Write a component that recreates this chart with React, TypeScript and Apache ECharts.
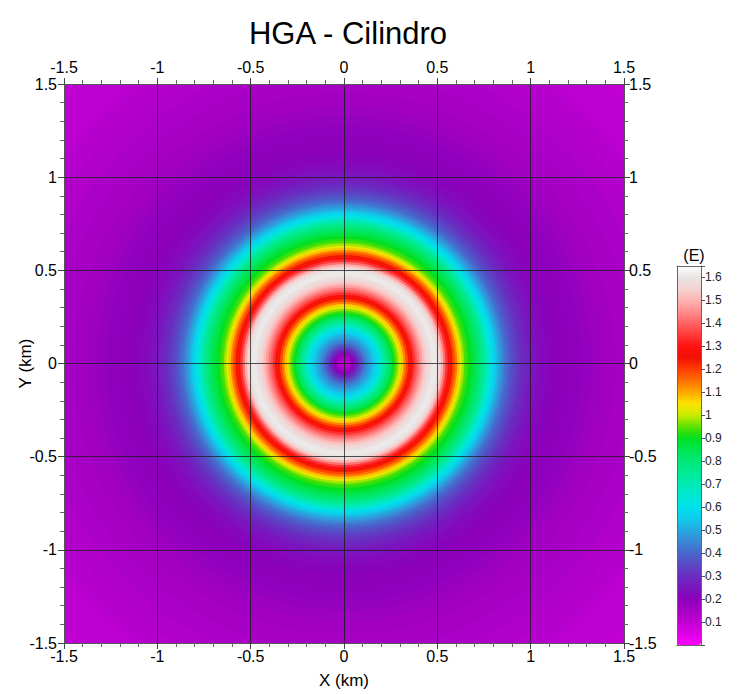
import React, { useEffect, useRef } from 'react';
import * as echarts from 'echarts';

// Radial profile of the HGA field (distance from the cylinder axis, km -> value E)
const ringRadius = [
  0, 0.0125, 0.025, 0.0375, 0.05, 0.0625, 0.075, 0.0875, 0.1, 0.1125, 0.125, 0.1375, 0.15, 0.1625,
  0.175, 0.1875, 0.2, 0.2125, 0.225, 0.2375, 0.25, 0.2625, 0.275, 0.2875, 0.3, 0.3125, 0.325,
  0.3375, 0.35, 0.3625, 0.375, 0.3875, 0.4, 0.4125, 0.425, 0.4375, 0.45, 0.4625, 0.475, 0.4875,
  0.5, 0.5125, 0.525, 0.5375, 0.55, 0.5625, 0.575, 0.5875, 0.6, 0.6125, 0.625, 0.6375, 0.65,
  0.6625, 0.675, 0.6875, 0.7, 0.7125, 0.725, 0.7375, 0.75, 0.7625, 0.775, 0.7875, 0.8, 0.8125,
  0.825, 0.8375, 0.85, 0.8625, 0.875, 0.8875, 0.9, 0.9125, 0.925, 0.9375, 0.95, 0.9625, 0.975,
  0.9875, 1.0, 1.025, 1.05, 1.075, 1.1, 1.15, 1.2, 1.25, 1.3, 1.35, 1.4, 1.5, 1.6, 1.7, 1.8,
  1.9, 2.0, 2.1, 2.2,
];
const ringValue = [
  0.1, 0.11, 0.13, 0.16, 0.2, 0.25, 0.3, 0.35, 0.39, 0.43, 0.46, 0.49, 0.52, 0.55,
  0.58, 0.62, 0.67, 0.72, 0.76, 0.81, 0.85, 0.89, 0.93, 0.97, 1.02, 1.07, 1.13,
  1.19, 1.24, 1.29, 1.34, 1.39, 1.43, 1.47, 1.51, 1.54, 1.57, 1.59, 1.61, 1.61,
  1.6, 1.56, 1.5, 1.42, 1.34, 1.29, 1.24, 1.19, 1.14, 1.08, 1.03, 0.98, 0.94,
  0.92, 0.9, 0.88, 0.86, 0.835, 0.81, 0.78, 0.745, 0.7, 0.66, 0.62, 0.58, 0.545,
  0.51, 0.48, 0.45, 0.42, 0.4, 0.38, 0.36, 0.345, 0.33, 0.315, 0.3, 0.29, 0.28,
  0.265, 0.25, 0.24, 0.225, 0.215, 0.21, 0.2, 0.195, 0.19, 0.18, 0.17, 0.16, 0.15, 0.14, 0.13, 0.12,
  0.11, 0.105, 0.1, 0.095,
];
const cylinderCenter = [0, 0];

// Axis ranges / ticks
const axisMin = -1.5;
const axisMax = 1.5;
const axisStep = 0.5;
const colorMin = 0;
const colorMax = 1.65;
const colorStep = 0.1;

// Colour scale, evenly spaced from colorMin to colorMax (0.05 steps)
const scaleColors = [
  '#ff00ff', '#dc00e6', '#c000d4', '#a600c4', '#8c00bc', '#7a16be', '#6a2cc0', '#5a48c4',
  '#4866cc', '#3a88d6', '#26a8e0', '#10ccea', '#00e0ec', '#00e8d2', '#00eab4', '#00ea96',
  '#00e878', '#00e654', '#00e020', '#5ce000', '#c8ec00', '#ffe400', '#ffa800', '#ff7000',
  '#ff3c00', '#f01000', '#ff1010', '#ff3a3a', '#ff6262', '#ff8c8c', '#ffb2b2', '#f4d2d2',
  '#e8e4e4', '#ffffff',
];

const FONT = '"Liberation Sans", Arial, sans-serif';

export default function App() {
  const ref = useRef<HTMLDivElement>(null);
  useEffect(() => {
    document.body.style.margin = '0';
    const chart = echarts.init(ref.current!, null, { renderer: 'svg' });

    const bands = ringRadius.map((r, i) => {
      const outer = i < ringRadius.length - 1 ? (r + ringRadius[i + 1]) / 2 : r + 0.05;
      return [cylinderCenter[0], cylinderCenter[1], outer, ringValue[i]];
    });
    bands.reverse();

    const mainAxis = (position: string, showSplit: boolean, margin: number, extra: any = {}) => ({
      type: 'value',
      gridIndex: 0,
      position,
      min: axisMin,
      max: axisMax,
      interval: axisStep,
      z: 5,
      axisLine: { show: true, onZero: false, lineStyle: { color: '#555', width: 1 } },
      axisTick: { show: true, inside: false, length: 6, lineStyle: { color: '#444' } },
      minorTick: { show: true, splitNumber: 5, length: 4, lineStyle: { color: '#666' } },
      splitLine: { show: showSplit, lineStyle: { color: '#1a1a1a', opacity: 0.75, width: 1 } },
      axisLabel: { fontFamily: FONT, fontSize: 16, color: '#000', margin },
      ...extra,
    });

    const option: any = {
      animation: false,
      backgroundColor: '#fff',
      title: [
        {
          text: 'HGA - Cilindro',
          left: 343,
          top: 13,
          textAlign: 'center',
          textStyle: { fontFamily: FONT, fontSize: 31, fontWeight: 'normal', color: '#000' },
        },
        {
          text: '(E)',
          left: 689,
          top: 242,
          textAlign: 'center',
          textStyle: { fontFamily: FONT, fontSize: 16, fontWeight: 'normal', color: '#000' },
        },
      ],
      grid: [
        { left: 64, top: 84, width: 560, height: 560 },
        { left: 677, top: 266, width: 24, height: 379, z: 6 },
      ],
      xAxis: [
        mainAxis('bottom', true, 5, {
          name: 'X (km)',
          nameLocation: 'middle',
          nameGap: 29,
          nameMoveOverlap: false,
          nameTextStyle: { fontFamily: FONT, fontSize: 17, color: '#000' },
        }),
        mainAxis('top', false, 9),
        {
          type: 'value', gridIndex: 1, position: 'bottom', min: 0, max: 1, z: 6,
          axisLine: { show: true, onZero: false, lineStyle: { color: '#666' } },
          axisTick: { show: false }, axisLabel: { show: false }, splitLine: { show: false },
        },
        {
          type: 'value', gridIndex: 1, position: 'top', min: 0, max: 1, z: 6,
          axisLine: { show: true, onZero: false, lineStyle: { color: '#666' } },
          axisTick: { show: false }, axisLabel: { show: false }, splitLine: { show: false },
        },
      ],
      yAxis: [
        mainAxis('left', true, 7, {
          name: 'Y (km)',
          nameLocation: 'middle',
          nameGap: 30,
          nameMoveOverlap: false,
          nameTextStyle: { fontFamily: FONT, fontSize: 17, color: '#000' },
        }),
        mainAxis('right', false, 5),
        {
          type: 'value', gridIndex: 1, position: 'right', min: colorMin, max: colorMax,
          interval: colorStep, z: 6,
          axisLine: { show: true, onZero: false, lineStyle: { color: '#666' } },
          axisTick: { show: true, length: 4, lineStyle: { color: '#555' } },
          axisLabel: {
            fontFamily: FONT, fontSize: 12, color: '#222', margin: 4,
            formatter: (v: number) => (v <= 0.001 || v > 1.61 ? '' : String(Math.round(v * 10) / 10)),
          },
          splitLine: { show: false },
        },
        {
          type: 'value', gridIndex: 1, position: 'left', min: colorMin, max: colorMax, z: 6,
          axisLine: { show: true, onZero: false, lineStyle: { color: '#666' } },
          axisTick: { show: false }, axisLabel: { show: false }, splitLine: { show: false },
        },
      ],
      visualMap: {
        type: 'continuous',
        min: colorMin,
        max: colorMax,
        dimension: 3,
        seriesIndex: 0,
        calculable: false,
        hoverLink: false,
        realtime: false,
        orient: 'vertical',
        left: 677,
        top: 266,
        itemWidth: 24,
        itemHeight: 379,
        padding: 0,
        text: null,
        inRange: { color: scaleColors },
      },
      series: [
        {
          type: 'custom',
          xAxisIndex: 0,
          yAxisIndex: 0,
          clip: true,
          z: 2,
          dimensions: ['x', 'y', 'r', 'value'],
          encode: { x: 0, y: 1 },
          data: bands,
          renderItem: (params: any, api: any) => {
            const c = api.coord([api.value(0), api.value(1)]);
            const s = api.size([api.value(2), api.value(2)]);
            return {
              type: 'circle',
              shape: { cx: c[0], cy: c[1], r: s[0] },
              style: { fill: api.visual('color'), stroke: null },
            };
          },
        },
      ],
    };
    chart.setOption(option);
    return () => chart.dispose();
  }, []);
  return <div ref={ref} style={{ width: 738, height: 694 }} />;
}
